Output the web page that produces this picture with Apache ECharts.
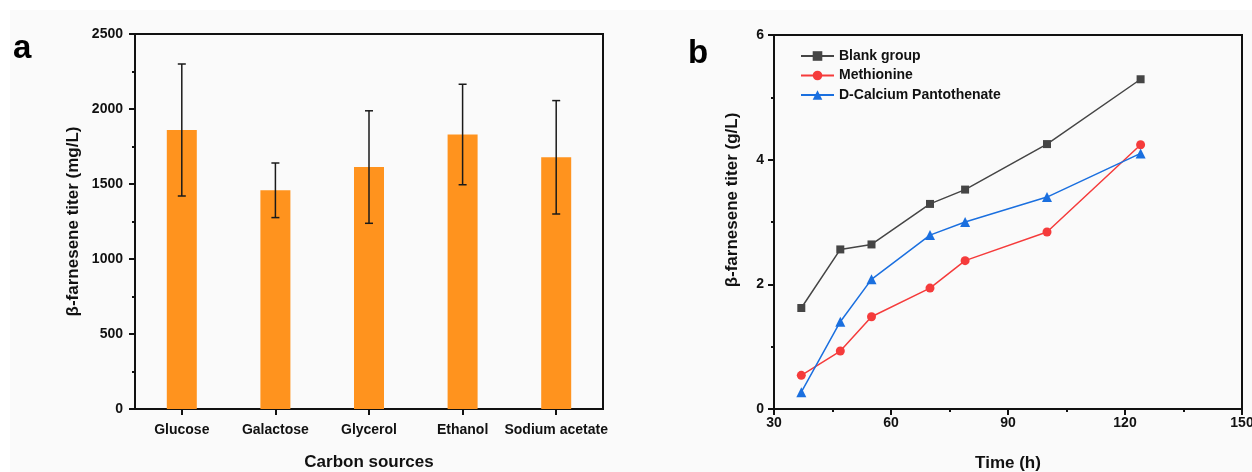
<!DOCTYPE html>
<html>
<head>
<meta charset="utf-8">
<script src="https://cdn.jsdelivr.net/npm/echarts@6/dist/echarts.min.js"></script>
<style>
  html, body { margin: 0; padding: 0; background: #fff; }
  #paper { position: absolute; left: 10px; top: 10px; right: 0; bottom: 0; background: #fafafa; }
  #chart { position: absolute; left: 0; top: 0; width: 1252px; height: 472px; }
</style>
</head>
<body>
<div id="paper"></div>
<div id="chart"></div>
<script>
// panel a: titer by carbon source (mean, sd)
const carbonSources = ['Glucose', 'Galactose', 'Glycerol', 'Ethanol', 'Sodium acetate'];
const titerMean = [1860, 1458, 1613, 1830, 1678];
const titerSd = [440, 182, 375, 335, 378];

// panel b: titer over time
const timeHours = [37, 47, 55, 70, 79, 100, 124];
const blankGroup = [1.62, 2.56, 2.64, 3.29, 3.52, 4.25, 5.29];
const methionine = [0.54, 0.93, 1.48, 1.94, 2.38, 2.84, 4.24];
const calciumPantothenate = [0.27, 1.40, 2.08, 2.79, 3.00, 3.40, 4.10];

const FONT = "'Liberation Sans', Arial, sans-serif";
const INK = '#111';

function plain(v) {
  return String(v);
}

function axisBase(extra) {
  return Object.assign({
    axisLine: { show: true, lineStyle: { color: INK, width: 2 } },
    axisTick: { show: true, inside: false, length: 6, lineStyle: { color: INK, width: 2 } },
    minorTick: { show: true, splitNumber: 2, length: 3, lineStyle: { color: INK, width: 2 } },
    splitLine: { show: false },
    nameLocation: 'middle',
    nameTextStyle: { color: INK, fontFamily: FONT, fontWeight: 'bold', fontSize: 17 },
  }, extra);
}

function errorBar(params, api) {
  const x = api.value(0);
  const top = api.coord([x, api.value(2)]);
  const bot = api.coord([x, api.value(1)]);
  const w = 4;
  const style = { stroke: '#1a1a1a', lineWidth: 1.5 };
  return {
    type: 'group',
    children: [
      { type: 'line', shape: { x1: top[0], y1: top[1], x2: bot[0], y2: bot[1] }, style },
      { type: 'line', shape: { x1: top[0] - w, y1: top[1], x2: top[0] + w, y2: top[1] }, style },
      { type: 'line', shape: { x1: bot[0] - w, y1: bot[1], x2: bot[0] + w, y2: bot[1] }, style },
    ],
  };
}

function lineSeries(name, values, color, symbol, size) {
  return {
    name,
    type: 'line',
    xAxisIndex: 1,
    yAxisIndex: 1,
    data: timeHours.map((t, i) => [t, values[i]]),
    symbol,
    symbolSize: size,
    showAllSymbol: true,
    itemStyle: { color },
    lineStyle: { color, width: 1.5 },
    z: 3,
  };
}

const chart = echarts.init(document.getElementById('chart'));
chart.setOption({
  backgroundColor: 'transparent',
  animation: false,
  textStyle: { fontFamily: FONT },
  grid: [
    { left: 135, top: 34, width: 468, height: 375, show: true, borderColor: INK, borderWidth: 2,
      backgroundColor: 'transparent', containLabel: false, outerBoundsMode: 'none' },
    { left: 774, top: 35, width: 468, height: 374, show: true, borderColor: INK, borderWidth: 2,
      backgroundColor: 'transparent', containLabel: false, outerBoundsMode: 'none' },
  ],
  graphic: [
    { type: 'text', left: 13, top: 32, style: { text: 'a', font: 'bold 33px ' + FONT, fill: '#000' } },
    { type: 'text', left: 688, top: 37, style: { text: 'b', font: 'bold 33px ' + FONT, fill: '#000' } },
  ],
  legend: {
    data: ['Blank group', 'Methionine', 'D-Calcium Pantothenate'],
    orient: 'vertical',
    left: 800,
    top: 49,
    padding: 0,
    itemWidth: 33,
    itemHeight: 12,
    itemGap: 5.5,
    textStyle: { color: INK, fontFamily: FONT, fontWeight: 'bold', fontSize: 14 },
  },
  xAxis: [
    axisBase({
      type: 'category',
      gridIndex: 0,
      data: carbonSources,
      boundaryGap: true,
      axisTick: { show: true, alignWithLabel: true, inside: false, length: 6, lineStyle: { color: INK, width: 2 } },
      minorTick: { show: false },
      axisLabel: { color: INK, fontFamily: FONT, fontWeight: 'bold', fontSize: 14, margin: 14, interval: 0 },
      name: 'Carbon sources',
      nameGap: 45,
    }),
    axisBase({
      type: 'value',
      gridIndex: 1,
      min: 30,
      max: 150,
      interval: 30,
      axisLabel: { color: INK, fontFamily: FONT, fontWeight: 'bold', fontSize: 14, margin: 7, formatter: plain },
      name: 'Time (h)',
      nameGap: 46,
    }),
  ],
  yAxis: [
    axisBase({
      type: 'value',
      gridIndex: 0,
      min: 0,
      max: 2500,
      interval: 500,
      axisLabel: { color: INK, fontFamily: FONT, fontWeight: 'bold', fontSize: 14, margin: 12, formatter: plain },
      name: 'β-farnesene titer (mg/L)',
      nameGap: 53,
    }),
    axisBase({
      type: 'value',
      gridIndex: 1,
      min: 0,
      max: 6,
      interval: 2,
      axisLabel: { color: INK, fontFamily: FONT, fontWeight: 'bold', fontSize: 14, margin: 10, formatter: plain },
      name: 'β-farnesene titer (g/L)',
      nameGap: 33,
      nameTextStyle: { color: INK, fontFamily: FONT, fontWeight: 'bold', fontSize: 17, padding: [0, 0, 0, 44] },
    }),
  ],
  series: [
    {
      name: 'titer',
      type: 'bar',
      xAxisIndex: 0,
      yAxisIndex: 0,
      data: titerMean,
      barWidth: 30,
      itemStyle: { color: '#ff931e' },
      z: 2,
    },
    {
      name: 'sd',
      type: 'custom',
      xAxisIndex: 0,
      yAxisIndex: 0,
      renderItem: errorBar,
      data: titerMean.map((m, i) => [i, m - titerSd[i], m + titerSd[i]]),
      encode: { x: 0, y: [1, 2] },
      z: 3,
    },
    lineSeries('Blank group', blankGroup, '#454545', 'rect', 8),
    lineSeries('Methionine', methionine, '#f53b3b', 'circle', 9),
    lineSeries('D-Calcium Pantothenate', calciumPantothenate, '#1a6fdf', 'triangle', 10),
  ],
});
</script>
</body>
</html>
